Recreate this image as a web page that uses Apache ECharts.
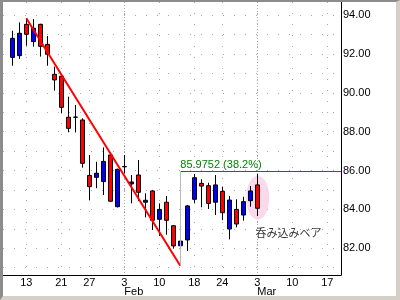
<!DOCTYPE html>
<html>
<head>
<meta charset="utf-8">
<script src="https://cdn.jsdelivr.net/npm/echarts@6/dist/echarts.min.js"></script>
<style>
  html, body { margin: 0; padding: 0; background: #fff; }
  #wrap { position: relative; width: 400px; height: 300px; }
  #chart { position: absolute; left: 0; top: 0; width: 400px; height: 300px; }
  #frame { position: absolute; left: 0; top: 0; width: 400px; height: 300px; box-sizing: border-box;
           border-left: 3px solid #8c8c8c; border-top: 2px solid #8c8c8c;
           border-right: 4px solid #d4d0c8; border-bottom: 4px solid #d4d0c8; pointer-events: none; }
</style>
</head>
<body>
<div id="wrap"><div id="chart"></div><div id="frame"></div></div>
<script>
// ---- data ----
const tradingDays = ['01-09','01-10','01-13','01-14','01-15','01-16','01-17','01-21','01-22','01-23','01-24','01-27','01-28','01-29','01-30','01-31',
  '02-03','02-04','02-05','02-06','02-07','02-10','02-11','02-12','02-13','02-14','02-18','02-19','02-20','02-21','02-24','02-25','02-26','02-27','02-28',
  '03-03','03-04','03-05','03-06','03-07','03-10','03-11','03-12','03-13','03-14','03-17','03-18','03-19','03-20','03-21'];
const openV  = [91.82, 91.91, 93.52, 92.63, 93.52, 92.49, 90.95, 90.85, 88.74, 88.75, 88.60, 85.75, 85.65, 85.43, 86.80, 84.14, 86.21, 85.31, 85.77, 84.37, 84.95, 83.49, 84.37, 83.16, 82.13, 82.43, 84.52, 85.34, 85.22, 84.37, 84.93, 82.99, 84.00, 83.71, 84.45, 85.26];
const closeV = [92.80, 93.06, 93.01, 93.32, 92.39, 91.98, 90.66, 89.25, 88.17, 88.74, 86.37, 85.17, 85.86, 86.47, 84.42, 86.06, 86.19, 85.41, 84.88, 84.47, 83.44, 84.00, 83.44, 82.12, 82.37, 84.18, 85.63, 85.20, 84.31, 85.26, 83.83, 84.48, 83.25, 84.40, 84.95, 84.06];
const highV  = [93.19, 93.62, 93.83, 93.79, 93.55, 92.92, 91.34, 90.90, 89.80, 89.37, 88.69, 86.80, 86.45, 87.19, 86.94, 86.10, 86.80, 85.77, 86.54, 84.83, 85.00, 84.31, 84.69, 83.20, 82.77, 84.23, 85.82, 85.55, 85.37, 85.77, 85.17, 84.69, 84.52, 84.65, 85.20, 85.82];
const lowV   = [91.39, 91.74, 92.42, 92.37, 91.86, 91.39, 90.11, 88.94, 87.97, 87.96, 86.15, 84.48, 85.09, 84.74, 84.40, 84.10, 85.86, 84.31, 84.43, 83.59, 82.94, 82.63, 82.70, 81.98, 81.10, 81.86, 84.31, 84.11, 84.02, 83.71, 83.45, 82.46, 83.08, 83.42, 84.14, 83.66];
const tickDates  = ['01-13','01-21','01-27','02-03','02-10','02-18','02-24','03-03','03-10','03-17'];
const tickLabels = ['13','21','27','3','10','18','24','3','10','17'];
const monthDates  = ['02-03','03-03'];
const monthLabels = ['Feb','Mar'];
const yLabelValues = [82, 84, 86, 88, 90, 92, 94];
const yGridValues  = [81, 82, 83, 84, 85, 86, 87, 88, 89, 90, 91, 92, 93, 94];
const trendFromDate = '01-13';   // swing high
const trendToDate   = '02-13';   // swing low
const fibLevel = 85.9752;
const fibText  = '85.9752 (38.2%)';
const patternName = '呑み込みベア';
const patternDates = ['02-28','03-03'];

// ---- layout / styling ----
const xMin = -1.33, xMax = 46.96;
const yMin = 80.626, yMax = 94.669;
const FONT = 'Liberation Sans';

const idx = d => tradingDays.indexOf(d);
const tickIdx = tickDates.map(idx);
const monthIdx = monthDates.map(idx);
const candles = openV.map((o, i) => [i, o, closeV[i], lowV[i], highV[i]]);
const tFrom = idx(trendFromDate), tTo = idx(trendToDate);
const pA = idx(patternDates[0]), pB = idx(patternDates[1]);
const ellipseCenter = [(pA + pB) / 2 + 0.57, (Math.max(highV[pA], highV[pB]) + Math.min(lowV[pA], lowV[pB])) / 2 - 0.14];

const chart = echarts.init(document.getElementById('chart'), null, {renderer: 'canvas'});
chart.setOption({
  animation: false,
  grid: {left: 3, right: 59, top: 2, bottom: 25, containLabel: false},
  xAxis: [{
    type: 'value', min: xMin, max: xMax, position: 'bottom',
    axisLine: {show: true, onZero: false, lineStyle: {color: '#000', width: 1}},
    axisTick: {show: false, customValues: tickIdx},
    axisLabel: {customValues: tickIdx, formatter: v => tickLabels[tickIdx.indexOf(v)] || '',
      fontSize: 11, fontFamily: FONT, color: '#000', margin: 2},
    splitLine: {show: true, lineStyle: {color: '#a8a8a8', width: 1, type: [1, 10]}}
  }, {
    type: 'value', min: xMin, max: xMax, position: 'bottom',
    axisLine: {show: false},
    axisTick: {show: false, customValues: monthIdx},
    axisLabel: {customValues: monthIdx, formatter: v => monthLabels[monthIdx.indexOf(v)] || '',
      fontSize: 11, fontFamily: FONT, color: '#000', margin: 11, align: 'left'},
    splitLine: {show: true, lineStyle: {color: '#a8a8a8', width: 1, type: [1, 2]}}
  }],
  yAxis: {
    type: 'value', min: yMin, max: yMax, position: 'right',
    axisLine: {show: true, onZero: false, lineStyle: {color: '#000', width: 1}},
    axisTick: {show: false, customValues: yGridValues},
    axisLabel: {customValues: yLabelValues, formatter: v => v.toFixed(2),
      fontSize: 11, fontFamily: FONT, color: '#000', margin: 2},
    splitLine: {show: true, lineStyle: {color: '#a8a8a8', width: 1, type: [1, 10]}}
  },
  series: [{
    type: 'scatter', z: 1, silent: true,
    symbol: 'circle', symbolSize: [23, 44],
    itemStyle: {color: '#f8cfe5'},
    data: [ellipseCenter]
  }, {
    type: 'candlestick', z: 3,
    barWidth: 4,
    encode: {x: 0, y: [1, 2, 3, 4]},
    itemStyle: {color: '#0000ff', color0: '#ff0000', borderColor: '#000', borderColor0: '#000', borderColorDoji: '#000', borderWidth: 1},
    data: candles
  }, {
    type: 'line', z: 4, symbol: 'none', silent: true,
    lineStyle: {color: '#ff0000', width: 2},
    data: [[tFrom, highV[tFrom]], [tTo, lowV[tTo]]],
    markLine: {
      silent: true, symbol: 'none',
      data: [
        [{coord: [tTo, fibLevel], lineStyle: {color: '#008000', width: 1, type: 'solid'},
          label: {show: true, position: 'insideStartTop', formatter: fibText, color: '#008000', fontSize: 11, fontFamily: FONT, distance: [0, 1]}},
         {coord: [xMax, fibLevel]}],
        [{coord: [tTo, fibLevel], lineStyle: {color: '#b8b8b8', width: 1, type: 'solid'}, label: {show: false}},
         {coord: [tTo, lowV[tTo]]}]
      ]
    }
  }, {
    type: 'scatter', z: 5, silent: true,
    symbolSize: 1, itemStyle: {color: 'rgba(0,0,0,0)'},
    label: {show: true, position: 'right', distance: 0, formatter: patternName,
      color: '#000', fontSize: 11, fontFamily: 'Noto Sans CJK JP'},
    data: [[pB - 0.33, lowV[pB] - 0.86]]
  }]
});
</script>
</body>
</html>
